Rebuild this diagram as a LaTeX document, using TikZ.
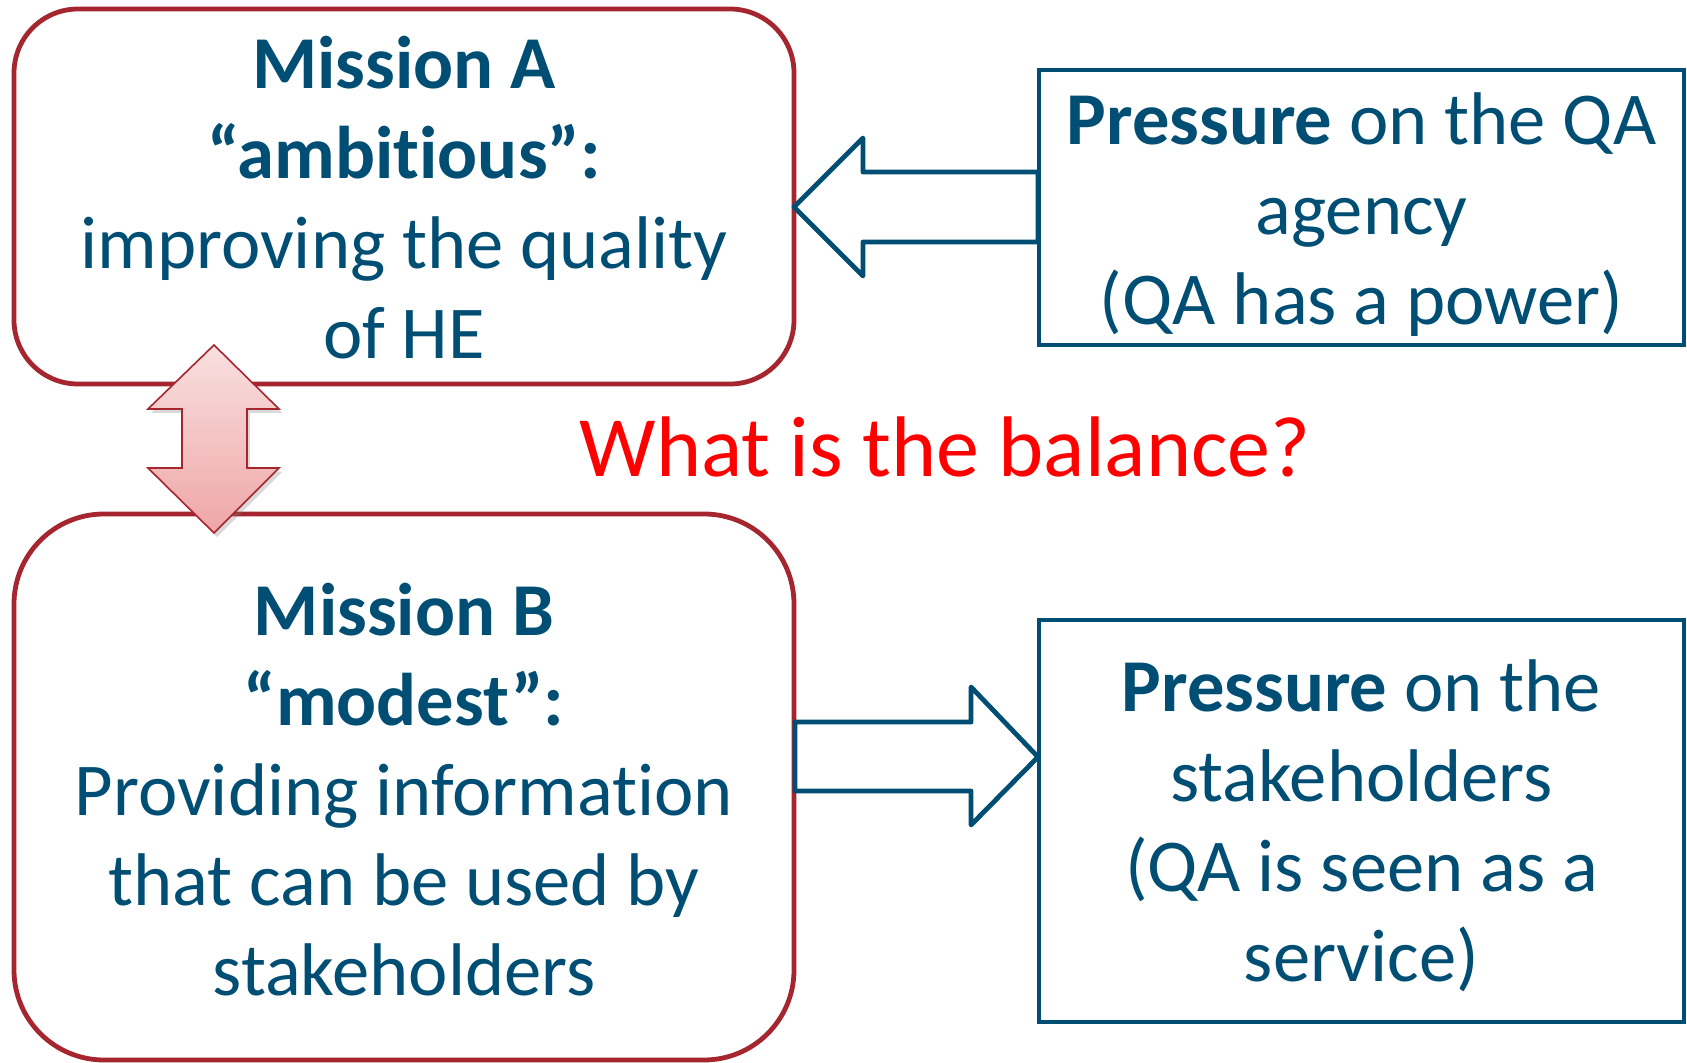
\documentclass[tikz,border=0pt]{standalone}
\usepackage{fontspec}
\setmainfont[Ligatures=NoCommon]{Carlito}
\usetikzlibrary{shadows}
\definecolor{qablue}{RGB}{0,78,115}
\definecolor{boxred}{RGB}{166,38,48}
\definecolor{pinktop}{RGB}{249,224,224}
\definecolor{pinkbot}{RGB}{239,166,166}
\tikzset{
  boxtext/.style={align=center, text=qablue, font=\fontsize{37.3}{45}\selectfont, inner sep=0pt},
  missionbox/.style={draw=boxred, line width=2.4pt, inner sep=0pt},
  qabox/.style={draw=qablue, line width=2.4pt, inner sep=0pt},
  blockarrow/.style={draw=qablue, line width=2.4pt, fill=white, line join=round},
  dblarrow/.style={draw=boxred, line width=0.8pt, top color=pinktop, bottom color=pinkbot,
     drop shadow={opacity=0.3, shadow xshift=1.5pt, shadow yshift=-2pt}}
}
\begin{document}
\begin{tikzpicture}[x=0.5pt,y=-0.5pt]
\useasboundingbox (0,0) rectangle (1687,1063);
\begin{scope}
\clip (0,0) rectangle (1687,1063);
\node[missionbox, rounded corners=32pt, minimum width=390pt, minimum height=187.5pt] (A) at (404,196.5) {};
\node[missionbox, rounded corners=45pt, minimum width=390pt, minimum height=273pt] (B) at (404,787) {};
\end{scope}
\node[boxtext] (Atext) at ([yshift=-0.5pt]A.center)
  {\textbf{Mission A}\\\textbf{“ambitious”:}\\improving the quality\\of HE};
\node[boxtext] (Btext) at ([yshift=-1.3pt]B.center)
  {\textbf{Mission B}\\\textbf{“modest”:}\\Providing information\\that can be used by\\stakeholders};
\node[qabox, minimum width=322.5pt, minimum height=137.5pt] (P1) at (1361.5,207.5) {};
\node[qabox, minimum width=322.5pt, minimum height=201pt] (P2) at (1361.5,821) {};
\node[boxtext] (P1text) at ([yshift=-3.5pt]P1.center)
  {\textbf{Pressure} on the QA\\agency\\(QA has a power)};
\node[boxtext] (P2text) at ([yshift=-2.5pt]P2.center)
  {\textbf{Pressure} on the\\stakeholders\\(QA is seen as a\\service)};
\node[text={rgb,255:red,255;green,0;blue,0}, font=\fontsize{43}{52}\selectfont] (Q) at (945,447) {What is the balance?};
% block arrows
\draw[blockarrow] (794,207) -- (863,138) -- (863,172) -- (1038,172) -- (1038,242) -- (863,242) -- (863,276) -- cycle;
\draw[blockarrow] (795,722) -- (971,722) -- (971,687) -- (1038,757) -- (971,825) -- (971,791) -- (795,791) -- cycle;
% double arrow
\draw[dblarrow] (214,345) -- (279,409) -- (247,409) -- (247,468) -- (279,468) -- (214,533)
   -- (148,468) -- (182,468) -- (182,409) -- (148,409) -- cycle;
\end{tikzpicture}
\end{document}
